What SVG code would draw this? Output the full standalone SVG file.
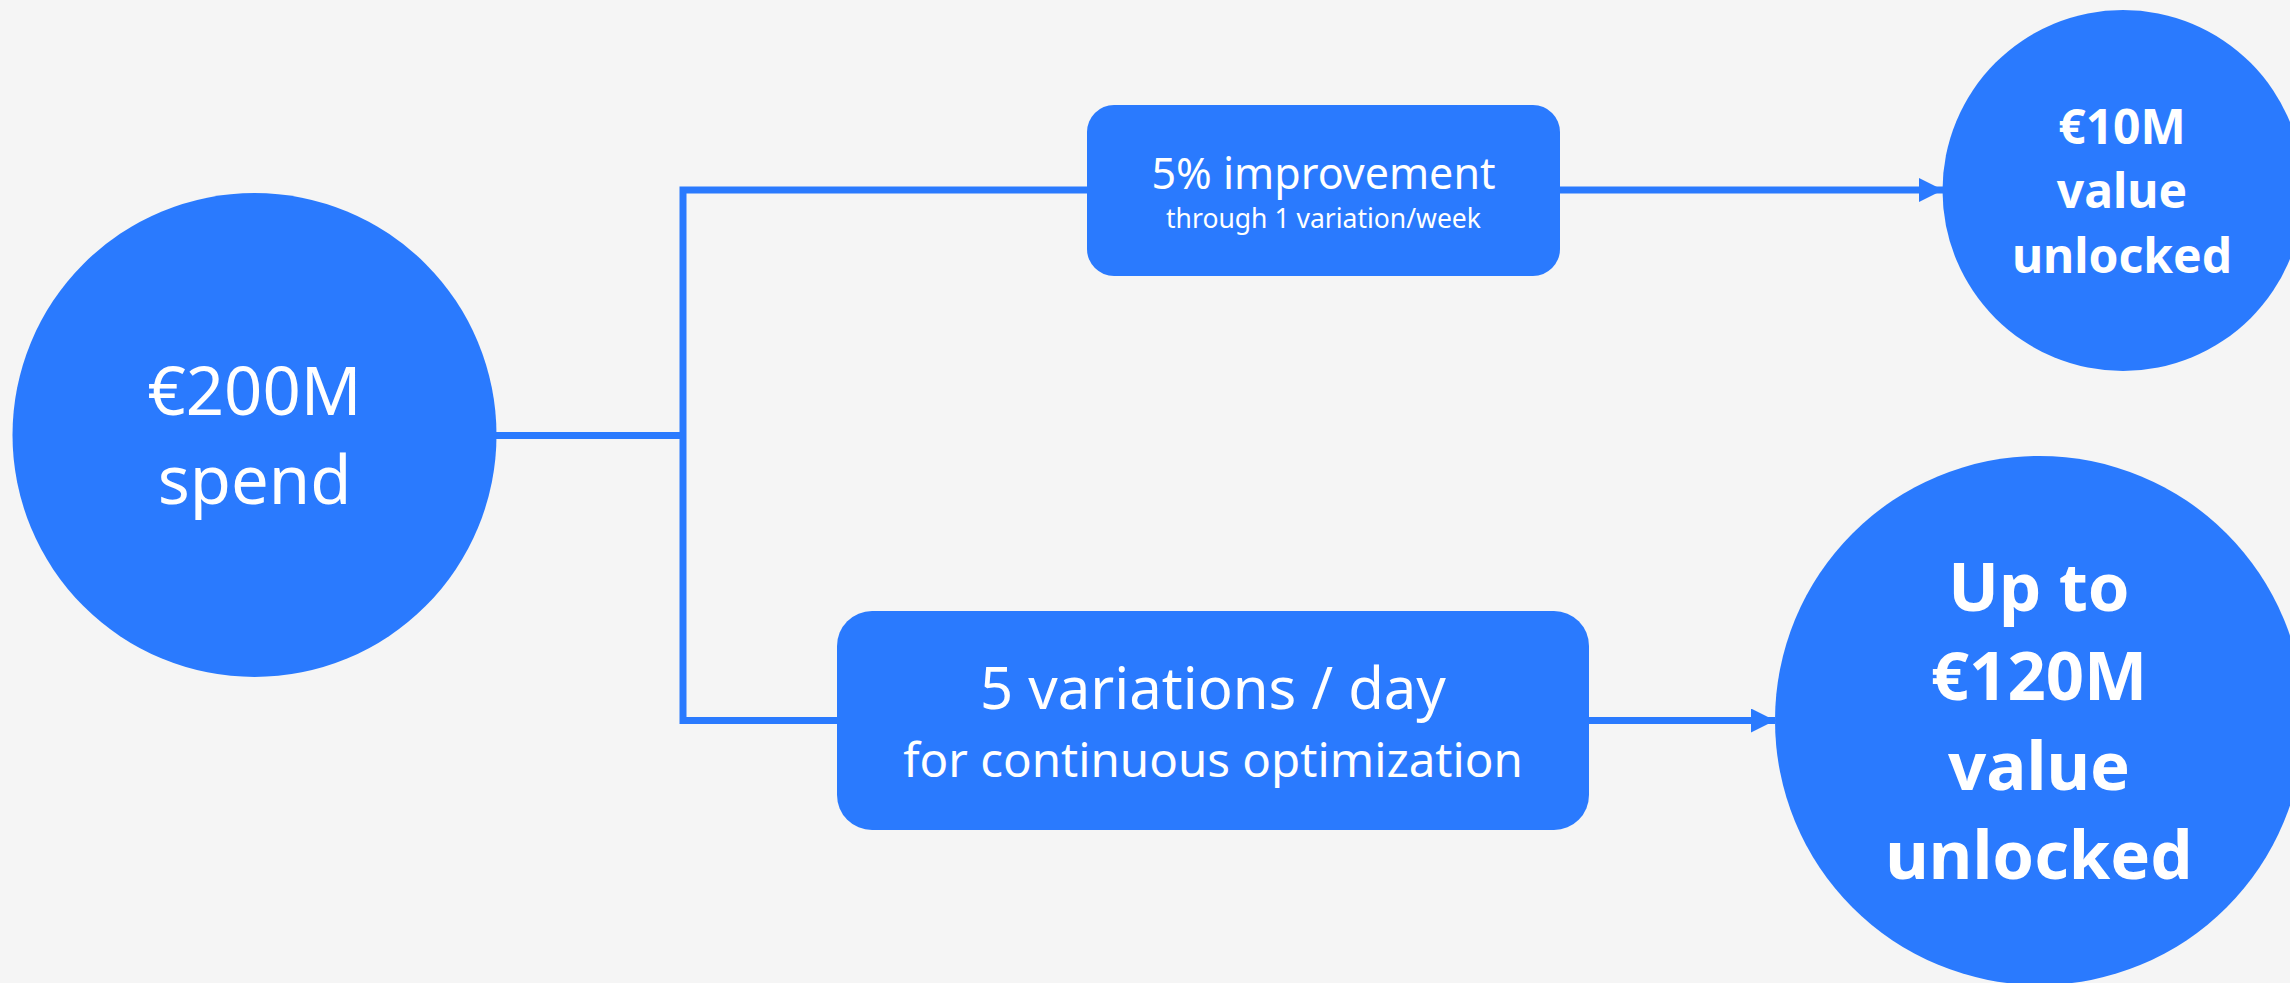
<svg xmlns="http://www.w3.org/2000/svg" width="2290" height="983" viewBox="0 0 2290 983">
  <style>
    .node { fill: #2A7AFE; }
    .wire { fill: none; stroke: #2A7AFE; stroke-width: 7; }
    .t { fill: #FFFFFF; font-family: "Noto Sans", "Liberation Sans", sans-serif; text-anchor: middle; }
    .bold { font-weight: 700; }
  </style>
  <defs>
    <marker id="arrow" markerUnits="userSpaceOnUse" markerWidth="26" markerHeight="26" refX="24" refY="12" orient="auto">
      <polygon points="0,0 24,12 0,24" fill="#2A7AFE"/>
    </marker>
  </defs>
  <rect width="2290" height="983" fill="#F5F5F5"/>

  <g id="connectors">
    <polyline class="wire" points="496,435.5 683,435.5"/>
    <polyline class="wire" points="1087,190 683,190 683,720.5 837,720.5"/>
    <line class="wire" x1="1560" y1="190" x2="1943" y2="190" marker-end="url(#arrow)"/>
    <line class="wire" x1="1589" y1="720.5" x2="1775" y2="720.5" marker-end="url(#arrow)"/>
  </g>

  <g id="spend">
    <circle class="node" cx="254.5" cy="435" r="242"/>
    <text class="t" x="254.5" y="415" font-size="67">€200M</text>
    <text class="t" x="254.5" y="504" font-size="67">spend</text>
  </g>

  <g id="weekly">
    <rect class="node" x="1087" y="105" width="473" height="171" rx="27"/>
    <text class="t" x="1323.5" y="189" font-size="43">5% improvement</text>
    <text class="t" x="1323.5" y="228" font-size="26.5">through 1 variation/week</text>
  </g>

  <g id="daily">
    <rect class="node" x="837" y="611" width="752" height="219" rx="35"/>
    <text class="t" x="1213" y="709" font-size="58">5 variations / day</text>
    <text class="t" x="1213" y="777" font-size="47.5">for continuous optimization</text>
  </g>

  <g id="value-10">
    <circle class="node" cx="2123" cy="190.5" r="180.5"/>
    <text class="t bold" x="2122" y="144" font-size="48">€10M</text>
    <text class="t bold" x="2122" y="208" font-size="48">value</text>
    <text class="t bold" x="2122" y="272.5" font-size="48">unlocked</text>
  </g>

  <g id="value-120">
    <circle class="node" cx="2039.5" cy="720.5" r="264.5"/>
    <text class="t bold" x="2039" y="610.5" font-size="67">Up to</text>
    <text class="t bold" x="2039" y="700" font-size="67">€120M</text>
    <text class="t bold" x="2039" y="789.5" font-size="67">value</text>
    <text class="t bold" x="2039" y="879" font-size="67">unlocked</text>
  </g>
</svg>
